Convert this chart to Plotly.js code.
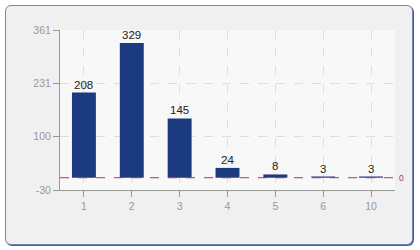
<!DOCTYPE html>
<html><head><meta charset="utf-8">
<script src="https://cdn.plot.ly/plotly-3.0.1.min.js"></script>
<style>
html,body{margin:0;padding:0;background:#fff;}
#wrap{position:relative;width:420px;height:250px;}
#panel{position:absolute;left:5px;top:5px;width:406px;height:238px;border:1px solid #7383b5;border-radius:6px;background:#f0f0f0;box-shadow:1px 1px 0 #4a5a9a;}
#chart{position:absolute;left:0;top:0;width:420px;height:250px;}
</style></head>
<body>
<div id="wrap"><div id="panel"></div><div id="chart"></div></div>
<script>
const categories = ['1','2','3','4','5','6','10'];
const values = [208, 329, 145, 24, 8, 3, 3];
const yTicks = [-30, 100, 231, 361];
const refValue = 0;

const font = '"Liberation Sans", Arial, sans-serif';
const data = [{
  type: 'bar',
  x: categories,
  y: values,
  width: 0.5,
  marker: {color: '#1b3a7f', line: {width: 0}},
  hoverinfo: 'none'
}];
const labelAnns = categories.map((c, i) => ({
  x: i, y: values[i], xref: 'x', yref: 'y',
  yanchor: 'bottom', yshift: 0, showarrow: false,
  text: String(values[i]),
  font: {family: font, size: 11.5, color: '#222'}
}));
const layout = {
  width: 420, height: 250,
  margin: {l: 60, r: 25, t: 30, b: 60},
  paper_bgcolor: 'rgba(0,0,0,0)',
  plot_bgcolor: '#f8f8f8',
  showlegend: false,
  font: {family: font, size: 10.5, color: '#999'},
  xaxis: {
    type: 'category', range: [-0.5, 6.5],
    showline: true, linecolor: '#999', linewidth: 1,
    ticks: 'outside', ticklen: 6, tickcolor: '#999',
    showgrid: true, gridcolor: '#dddddd', griddash: 'dash', gridwidth: 1,
    tickfont: {family: font, size: 10.5, color: '#999'},
    zeroline: false
  },
  yaxis: {
    range: [-30, 361], tickvals: yTicks, ticktext: yTicks.map(String),
    showline: true, linecolor: '#999', linewidth: 1,
    ticks: 'outside', ticklen: 6, tickcolor: '#999',
    showgrid: true, gridcolor: '#dddddd', griddash: 'dash', gridwidth: 1,
    tickfont: {family: font, size: 10.5, color: '#999'},
    zeroline: false
  },
  shapes: [{
    type: 'line', xref: 'paper', x0: 0, x1: 1, yref: 'y', y0: refValue, y1: refValue,
    line: {color: '#a83a4a', width: 1, dash: 'dash'}
  }],
  annotations: labelAnns.concat([{
    xref: 'paper', x: 1, xanchor: 'left', xshift: 2, yref: 'y', y: refValue,
    text: String(refValue), showarrow: false,
    font: {family: font, size: 8.5, color: '#a83a4a'}
  }])
};
Plotly.newPlot('chart', data, layout, {displayModeBar: false, staticPlot: true});
</script>
</body></html>
